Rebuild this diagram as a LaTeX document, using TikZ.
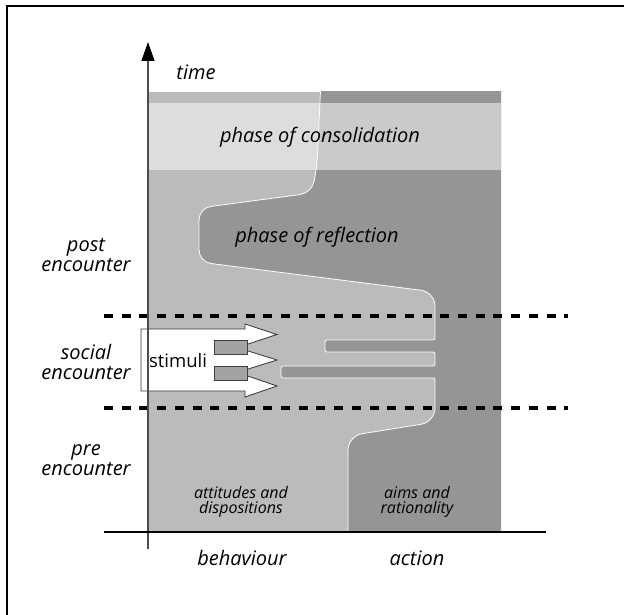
\documentclass[tikz,border=0pt]{standalone}
\usepackage{fontspec}
\setmainfont{Open Sans}
\usetikzlibrary{arrows.meta}

\definecolor{behgrey}{HTML}{BBBBBB}
\definecolor{actgrey}{HTML}{959595}
\definecolor{tabgrey}{HTML}{A3A3A3}

% border between behaviour (left) and action (right)
\newcommand{\flowline}{(321,80) [rounded corners=12pt] -- (317,165) -- (312,193)
  -- (199,208) -- (199,262) [rounded corners=14pt] -- (435,292)
  [rounded corners=2pt] -- (435,340) -- (325,340) -- (325,352) -- (435,352)
  -- (435,366) -- (281,366) -- (281,378) -- (435,378)
  [rounded corners=14pt] -- (435,422) -- (348,436) -- (348,545)}

\begin{document}
\begin{tikzpicture}[x=1pt,y=-1pt,
    lbl/.style={font=\itshape\fontsize{20}{20}\selectfont, align=center},
    smalllbl/.style={font=\itshape\fontsize{16}{15}\selectfont, align=center},
    limit/.style={line width=4pt, dash pattern=on 9pt off 8.7pt}]

\useasboundingbox (0,0) rectangle (624,615);
\draw[line width=1.5pt] (7,615) -- (7,6) -- (624,6);

\begin{scope}
    \clip (149,92) rectangle (501,532);
    \fill[behgrey] (149,92) rectangle (501,532);
    \fill[actgrey] \flowline -- (520,545) -- (520,80) -- cycle;
    \draw[white, line width=0.8pt] \flowline;
    \fill[white, opacity=0.5] (149,103) rectangle (501,170);
\end{scope}

% \draw[limit] (104,92) -- (568,92);
\draw[limit] (104,315.5) -- (568,315.5);
\draw[limit] (104,407.5) -- (568,407.5);

% stimuli
\draw[fill=white, draw=black!80, line width=0.8pt] (141,329) -- (245,329) -- (245,324) -- (277,334.5)
    -- (245,345) -- (245,350) -- (277,360) -- (245,370) -- (245,375) -- (277,386)
    -- (245,397) -- (245,391) -- (141,391) -- cycle;
\draw[fill=tabgrey, draw=black!75, line width=0.8pt] (214,340) rectangle (247,354);
\draw[fill=tabgrey, draw=black!75, line width=0.8pt] (214,366) rectangle (247,380);
\node[font=\fontsize{18.5}{20}\selectfont] (stimuli) at (178,361) {stimuli};

% axes
\coordinate (origin) at (148,532);
\coordinate (tip) at (148,42);
\draw[line width=1.2pt, black!70, -{Triangle[length=19pt,width=13pt,color=black]}] (148,549) -- (tip);
\draw[line width=1.2pt] (104,532) -- (546,532);

\node[lbl] (time) at (196,72) {time};
\node[lbl] (consol) at (320,137) {phase of consolidation};
\node[lbl] (reflect) at (317,237) {phase of reflection};
\node[lbl] (post) at (86,255) {post\\encounter};
\node[lbl] (social) at (86,362) {social\\encounter};
\node[lbl] (pre) at (86,460) {pre\\encounter};
\node[smalllbl] (attit) at (241,502) {attitudes and\\dispositions};
\node[smalllbl] (aims) at (417,502) {aims and\\rationality};
\node[lbl] (behav) at (242,558) {behaviour};
\node[lbl] (action) at (417,558) {action};
\end{tikzpicture}
\end{document}
